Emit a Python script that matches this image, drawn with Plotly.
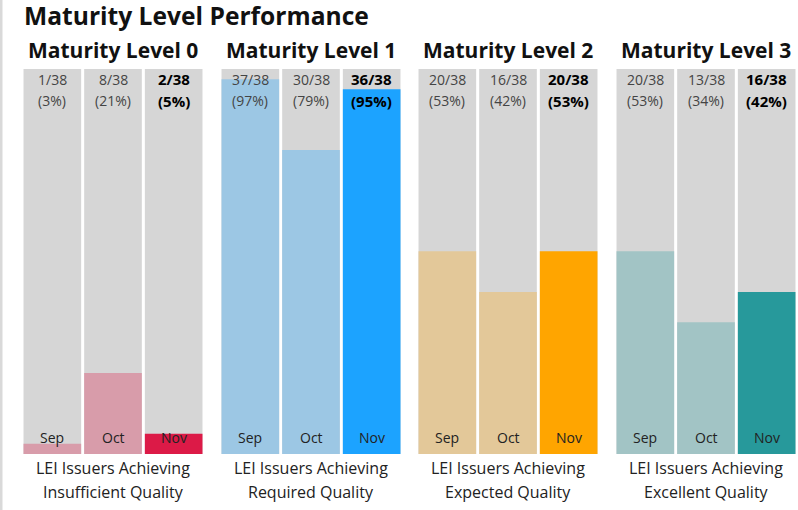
import plotly.graph_objects as go

W, H = 798, 510
TOTAL = 38
months = ["Sep", "Oct", "Nov"]
panel_titles = ["Maturity Level 0", "Maturity Level 1", "Maturity Level 2", "Maturity Level 3"]
captions = ["Insufficient Quality", "Required Quality", "Expected Quality", "Excellent Quality"]
level0 = [1, 8, 2]
level1 = [37, 30, 36]
level2 = [20, 16, 20]
level3 = [20, 13, 16]
values = [level0, level1, level2, level3]
light_colors = ["#D89CAA", "#9CC7E4", "#E3C899", "#A2C4C5"]
dark_colors = ["#DC1A47", "#1CA3FF", "#FFA500", "#27999B"]

FONT = "Open Sans"
panel_left = [22, 220, 417, 615]
panel_w = 182
ybot, ytop = 454, 69

def px(x):
    return x / W

def py(y):
    return (H - y) / H

fig = go.Figure()
layout_axes = {}
annotations = []

def ann(text, x, y, xref="paper", size=13, color="#222", xanchor="center"):
    return dict(text=text, x=x, y=y, xref=xref, yref="paper", xanchor=xanchor,
                yanchor="middle", showarrow=False,
                font=dict(size=size, color=color, family=FONT))

for i in range(4):
    ax = "" if i == 0 else str(i + 1)
    xa, ya = "x" + ax, "y" + ax
    cols = [light_colors[i], light_colors[i], dark_colors[i]]
    fig.add_trace(go.Bar(x=months, y=[TOTAL] * 3, marker=dict(color="#D6D6D6", line_width=0),
                         xaxis=xa, yaxis=ya, hoverinfo="skip", showlegend=False))
    fig.add_trace(go.Bar(x=months, y=values[i], marker=dict(color=cols, line_width=0),
                         xaxis=xa, yaxis=ya, showlegend=False))
    layout_axes["xaxis" + ax] = dict(domain=[px(panel_left[i]), px(panel_left[i] + panel_w)],
                                     anchor=ya, showticklabels=False, showgrid=False,
                                     zeroline=False, showline=False, fixedrange=True)
    layout_axes["yaxis" + ax] = dict(domain=[py(ybot), py(ytop)], range=[0, TOTAL], anchor=xa,
                                     showticklabels=False, showgrid=False, zeroline=False,
                                     showline=False, fixedrange=True)
    cx = px(panel_left[i] + panel_w / 2)
    annotations.append(ann("<b>" + panel_titles[i] + "</b>", cx, py(50), size=21, color="#111"))
    annotations.append(ann("LEI Issuers Achieving", cx, py(468), size=16, color="#222"))
    annotations.append(ann(captions[i], cx, py(492), size=16, color="#222"))
    for j, m in enumerate(months):
        v = values[i][j]
        bold = j == 2
        t1 = f"{v}/{TOTAL}"
        t2 = f"({round(v / TOTAL * 100)}%)"
        if bold:
            t1, t2 = "<b>" + t1 + "</b>", "<b>" + t2 + "</b>"
        c = "#000" if bold else "#444"
        s = 15 if bold else 14
        annotations.append(ann(t1, m, py(79), xref=xa, size=s, color=c))
        annotations.append(ann(t2, m, py(101), xref=xa, size=s, color=c))
        annotations.append(ann(m, m, py(437), xref=xa, size=14, color="#222"))

annotations.append(ann("<b>Maturity Level Performance</b>", px(22), py(15), size=24.6,
                       color="#111", xanchor="left"))

fig.update_layout(
    width=W, height=H, margin=dict(l=0, r=0, t=0, b=0),
    paper_bgcolor="white", plot_bgcolor="white",
    barmode="overlay", bargap=0.05,
    annotations=annotations,
    shapes=[dict(type="rect", xref="paper", yref="paper", x0=0, x1=px(2.5), y0=0, y1=1,
                 fillcolor="#D9D9D9", line_width=0)],
    font=dict(family=FONT),
    **layout_axes,
)
fig.write_html("out.html", config={"displayModeBar": False},
               post_script="document.body.style.margin='0';")
